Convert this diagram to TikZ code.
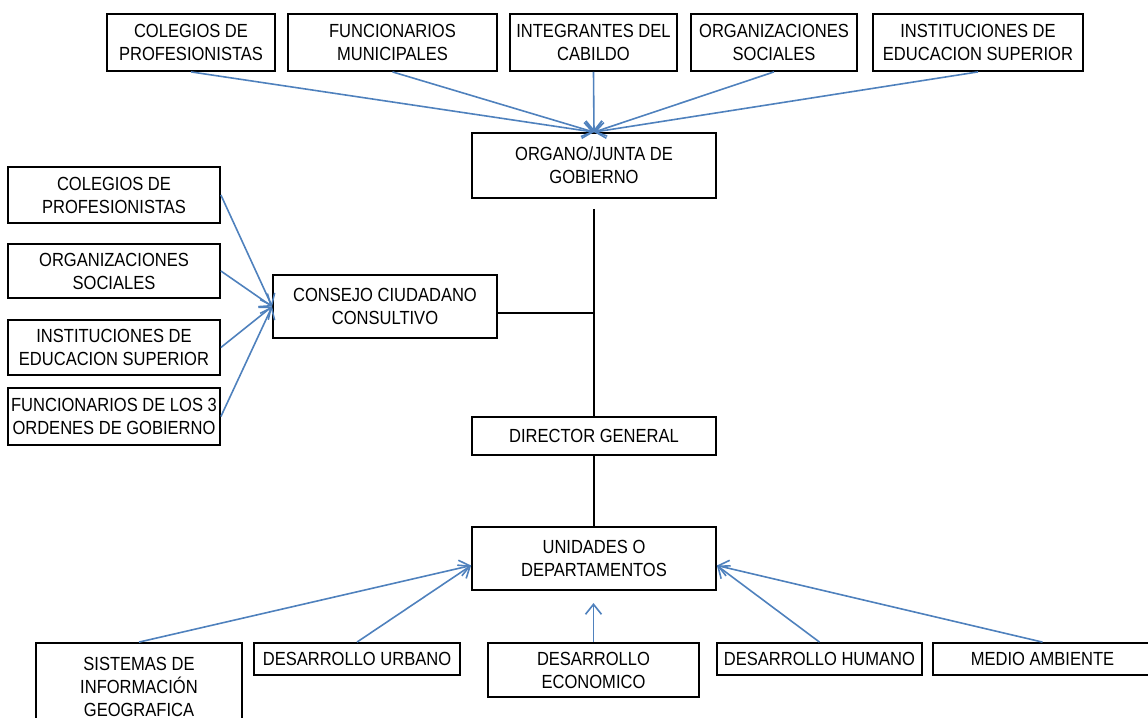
\documentclass[tikz,border=0pt]{standalone}
\usepackage{fontspec}
\setmainfont{Liberation Sans}[FakeStretch=0.87]
\usepackage{tikz}
\usetikzlibrary{arrows.meta}
\definecolor{linkblue}{HTML}{4F81BD}
\tikzset{
    unit/.style={draw, line width=0.9pt, align=center, inner sep=0pt,
        font=\fontsize{9.5}{11.5}\selectfont},
    link/.style={linkblue, line width=0.8pt, -{Straight Barb[length=5pt,width=8pt]}},
    trunk/.style={black, line width=1pt}
}

\begin{document}
\begin{tikzpicture}[x=0.5pt, y=-0.5pt]
            \clip (0,0) rectangle (1148,718);
            \node[unit, minimum width=84pt, minimum height=28.5pt] (tColegios) at (191,42.5) {COLEGIOS DE\\PROFESIONISTAS};
            \node[unit, minimum width=104.5pt, minimum height=28.5pt] (tFuncionarios) at (392.5,42.5) {FUNCIONARIOS\\MUNICIPALES};
            \node[unit, minimum width=83.5pt, minimum height=28.5pt] (tIntegrantes) at (593.5,42.5) {INTEGRANTES DEL\\CABILDO};
            \node[unit, minimum width=83pt, minimum height=28.5pt] (tOrganizaciones) at (774,42.5) {ORGANIZACIONES\\SOCIALES};
            \node[unit, minimum width=105pt, minimum height=28.5pt] (tInstituciones) at (978,42.5) {INSTITUCIONES DE\\EDUCACION SUPERIOR};

            \node[unit, minimum width=122pt, minimum height=32.5pt] (organo) at (594,165.5) {ORGANO/JUNTA DE\\GOBIERNO};
            \node[unit, minimum width=112pt, minimum height=31.5pt] (consejo) at (385,306.5) {CONSEJO CIUDADANO\\CONSULTIVO};
            \node[unit, minimum width=122pt, minimum height=19pt] (director) at (594,436) {DIRECTOR GENERAL};
            \node[unit, minimum width=122pt, minimum height=31.5pt] (unidades) at (594,558.5) {UNIDADES O\\DEPARTAMENTOS};

            \node[unit, minimum width=106pt, minimum height=28pt] (lColegios) at (114,195) {COLEGIOS DE\\PROFESIONISTAS};
            \node[unit, minimum width=106pt, minimum height=27pt] (lOrganizaciones) at (114,271) {ORGANIZACIONES\\SOCIALES};
            \node[unit, minimum width=106pt, minimum height=27.5pt] (lInstituciones) at (114,347.5) {INSTITUCIONES DE\\EDUCACION SUPERIOR};
            \node[unit, minimum width=106pt, minimum height=28.5pt] (lFuncionarios) at (114,416.5) {FUNCIONARIOS DE LOS 3\\ORDENES DE GOBIERNO};

            \node[unit, minimum width=103pt, minimum height=43.5pt] (bSistemas) at (139,686.5) {SISTEMAS DE\\INFORMACIÓN\\GEOGRAFICA};
            \node[unit, minimum width=103pt, minimum height=16pt] (bUrbano) at (357,659) {DESARROLLO URBANO};
            \node[unit, minimum width=105.5pt, minimum height=27pt] (bEconomico) at (593.5,670) {DESARROLLO\\ECONOMICO};
            \node[unit, minimum width=102.5pt, minimum height=16pt] (bHumano) at (819.5,659) {DESARROLLO HUMANO};
            \node[unit, minimum width=109.5pt, minimum height=16pt] (bMedio) at (1042.5,659) {MEDIO AMBIENTE};

            \coordinate (junction) at (594,313);
            \coordinate (econTip) at (593.5,603);
            \coordinate (uWest) at ([yshift=-3.5pt]unidades.west);
            \coordinate (uEast) at ([yshift=-3.5pt]unidades.east);

            \foreach \src in {tColegios,tFuncionarios,tIntegrantes,tOrganizaciones,tInstituciones}
                \draw[link] (\src.south) -- (organo.north);
            \foreach \src in {lColegios,lOrganizaciones,lInstituciones,lFuncionarios}
                \draw[link] (\src.east) -- (consejo.west);
            \foreach \src in {bSistemas,bUrbano}
                \draw[link] (\src.north) -- (uWest);
            \foreach \src in {bHumano,bMedio}
                \draw[link] (\src.north) -- (uEast);
            \draw[link] (bEconomico.north) -- (econTip);

            \draw[trunk, shorten <=5pt] (organo.south) -- (director.north);
            \draw[trunk] (consejo.east |- junction) -- (junction);
            \draw[trunk] (director.south) -- (unidades.north);
        \end{tikzpicture}
\end{document}
